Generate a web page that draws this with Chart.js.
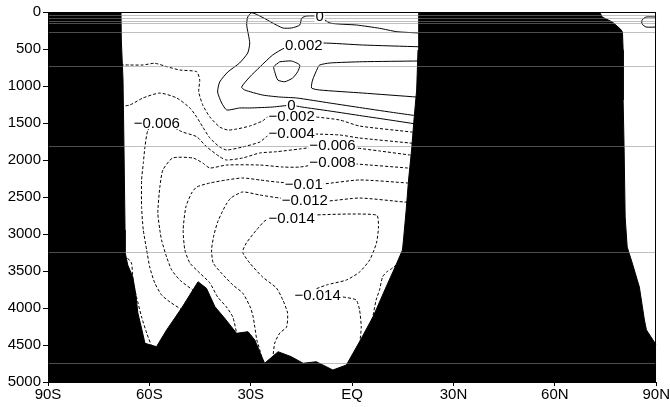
<!DOCTYPE html>
<html>
<head>
<meta charset="utf-8">
<script src="https://cdn.jsdelivr.net/npm/chart.js@4/dist/chart.umd.min.js"></script>
<style>
  html, body { margin: 0; padding: 0; background: #fff; }
  canvas { display: block; }
</style>
</head>
<body>
<canvas id="c" width="670" height="407"></canvas>
<script>
// Axes
const latTicks = [-90, -60, -30, 0, 30, 60, 90];
const latTickLabels = ['90S', '60S', '30S', 'EQ', '30N', '60N', '90N'];
const depthTicks = [0, 500, 1000, 1500, 2000, 2500, 3000, 3500, 4000, 4500, 5000];

// Model level depths (m) marked across the section
const levelDepths = [41, 85, 118, 153, 266, 726, 1811, 3243, 4743];

// Land / sea-floor outline (lat, depth in m), filled down to 5000 m
const landLat = [-90, -68.4, -68.3, -67.8, -67.5, -67.2, -67.2, -66.4, -64.9, -64.0, -63.4, -62.2, -61.3,
  -57.9, -54.9, -50.5, -45.6, -43.1, -40.6, -37.7, -34.2, -30.8, -28.8, -25.9, -21.9, -18.0, -14.5,
  -10.6, -5.7, -1.7, 2.2, 6.2, 10.1, 12.6, 14.0, 14.9, 15.2, 16.0, 16.7, 17.6, 18.3, 19.1, 19.5, 19.7,
  72.9, 73.5, 74.0, 77.0, 79.4, 80.0, 80.2, 80.2, 80.5, 80.8, 81.4, 82.9, 85.0, 86.5, 87.1, 90];
const landDepth = [0, 0, 378, 919, 1865, 2946, 3243, 3419, 3581, 3824, 4068, 4297, 4477,
  4523, 4297, 4004, 3645, 3734, 3982, 4139, 4342, 4320, 4432, 4747, 4591, 4658, 4747,
  4726, 4838, 4770, 4455, 4118, 3712, 3459, 3311, 3216, 3081, 2676, 2270, 1865, 1459, 1054, 514, 0,
  0, 20, 68, 135, 230, 270, 514, 1189, 1865, 2770, 3176, 3392, 3716, 4162, 4297, 4500];

// Streamfunction contours (Sv), each a polyline of [lat, depth] pairs
const levelPlus002 = 0.002;
const linePlus002 = [[19.9, 470], [3.1, 446], [-8.7, 419], [-14.3, 446], [-19.9, 486], [-23.5, 581],
  [-27.3, 743], [-30.3, 878], [-32.7, 1014], [-31.8, 1054], [-26.5, 1122], [-21.4, 1149], [-16.4, 1162],
  [-6.6, 1230], [3.1, 1297], [13.2, 1365], [19.5, 1405]];

const levelZero = 0;
const lineZero = [[20.0, 284], [13.2, 266], [8.1, 220], [1.3, 176], [-6.6, 149], [-9.6, 60], [-13.4, 54],
  [-14.9, 81], [-15.5, 176], [-17.9, 216], [-20.5, 216], [-23.5, 149], [-26.7, 68], [-29.7, 10],
  [-30.9, 68], [-31.2, 176], [-30.3, 419], [-30.9, 554], [-33.3, 689], [-36.8, 811], [-39.2, 946],
  [-39.8, 1081], [-38.6, 1230], [-37.1, 1324], [-33.3, 1297], [-30.3, 1297], [-23.5, 1284],
  [-18.0, 1260], [-14.9, 1284], [-6.6, 1338], [3.1, 1405], [11.1, 1459], [19.0, 1514]];

const levelPlus004 = 0.004;
const linePlus004Tongue = [[19.7, 662], [3.1, 672], [-6.6, 689], [-9.6, 716], [-10.2, 757], [-11.7, 919],
  [-12.0, 1027], [-9.6, 1054], [3.1, 1095], [19.3, 1150]];
const linePlus004Cell = [[-21.4, 672], [-18.0, 662], [-15.5, 716], [-16.1, 807], [-17.6, 892], [-19.9, 942],
  [-22.0, 919], [-22.9, 807], [-23.2, 739], [-21.4, 672]];

const levelMinus002 = -0.002;
const lineMinus002 = [[-70, 716], [-65.8, 716], [-61.9, 716], [-58.4, 693], [-54.8, 739], [-51.0, 784],
  [-46.0, 807], [-45.1, 919], [-45.4, 1077], [-44.2, 1257], [-42.1, 1419], [-39.2, 1554], [-36.8, 1595],
  [-34.1, 1581], [-30.3, 1541], [-26.5, 1473], [-25.0, 1419], [-17.9, 1405], [-10.8, 1419], [-3.7, 1459],
  [2.2, 1541], [17.6, 1622], [19.5, 1640]];

const levelMinus004 = -0.004;
const lineMinus004 = [[-70, 1284], [-65.8, 1257], [-61.9, 1162], [-56.9, 1095], [-51.9, 1162], [-48.0, 1297],
  [-46.0, 1419], [-44.2, 1554], [-42.1, 1703], [-39.2, 1824], [-37.1, 1865], [-32.4, 1824], [-27.3, 1757],
  [-25.0, 1676], [-17.9, 1635], [-10.8, 1649], [-3.7, 1662], [2.2, 1703], [17.0, 1770], [19.0, 1780]];
const lineMinus004Wall = [[-67.5, 3280], [-65.3, 3392], [-64.9, 3622], [-63.8, 3851], [-62.3, 4122],
  [-60.8, 4338], [-59.0, 4560]];

const levelMinus006 = -0.006;
const lineMinus006 = [[-50.2, 4030], [-53.9, 3919], [-56.4, 3824], [-58.4, 3662], [-59.9, 3446], [-60.8, 3216],
  [-61.8, 2946], [-62.3, 2631], [-62.3, 2270], [-61.8, 2045], [-61.3, 1820], [-60.4, 1595], [-57.8, 1500],
  [-54.0, 1530], [-50.4, 1618], [-46.0, 1685], [-43.1, 1820], [-39.2, 1955], [-37.2, 2000], [-32.4, 1973],
  [-27.3, 1905], [-22.4, 1888], [-15.5, 1851], [-5.8, 1797], [1.3, 1838], [8.1, 1878], [17.0, 1932], [18.5, 1940]];

const levelMinus008 = -0.008;
const lineMinus008 = [[-46.8, 3770], [-51.0, 3622], [-53.4, 3486], [-54.9, 3311], [-56.4, 3081], [-56.9, 2946],
  [-57.5, 2716], [-56.9, 2365], [-56.0, 2135], [-53.1, 1973], [-47.1, 1973], [-44.2, 2041], [-42.1, 2108],
  [-37.2, 2068], [-27.3, 2068], [-20.5, 2095], [-15.5, 2095], [-5.8, 2027], [1.3, 2054], [16.4, 2108], [18.0, 2115]];

const levelMinus010 = -0.01;
const lineMinus010 = [[-34.0, 4380], [-35.3, 4122], [-37.2, 3986], [-39.8, 3851], [-42.1, 3662], [-45.1, 3527],
  [-48.0, 3392], [-49.5, 3216], [-50.0, 2946], [-49.2, 2635], [-47.5, 2446], [-46.0, 2365], [-42.1, 2311],
  [-37.2, 2270], [-32.4, 2243], [-27.3, 2270], [-22.4, 2297], [-14.3, 2324], [-8.7, 2324], [2.2, 2270],
  [16.4, 2311], [17.8, 2320]];

const levelMinus012 = -0.012;
const lineMinus012 = [[-25.9, 4790], [-26.8, 4662], [-27.3, 4568], [-28.2, 4432], [-28.8, 4257], [-29.4, 4095],
  [-30.3, 3973], [-32.4, 3797], [-35.3, 3689], [-38.7, 3527], [-41.1, 3392], [-41.6, 3216], [-40.9, 3014],
  [-39.8, 2838], [-38.6, 2716], [-37.4, 2608], [-35.9, 2514], [-32.4, 2432], [-27.3, 2473], [-21.4, 2514],
  [-14.0, 2541], [-7.2, 2554], [2.2, 2514], [15.5, 2568], [17.0, 2570]];
const lineMinus012Slope = [[14.2, 3370], [12.0, 3459], [10.2, 3514], [9.0, 3581], [8.1, 3757], [7.1, 3892],
  [6.1, 4122], [5.2, 4257], [4.3, 4432], [3.7, 4520]];

const levelMinus014 = -0.014;
const lineMinus014 = [[-23.5, 4690], [-22.9, 4473], [-21.4, 4338], [-19.4, 4257], [-19.1, 4068], [-20.5, 3892],
  [-22.4, 3730], [-26.5, 3581], [-30.3, 3392], [-32.4, 3243], [-31.3, 3122], [-28.3, 2946], [-25.4, 2811],
  [-17.9, 2784], [-11.1, 2743], [7.2, 2743], [7.8, 2905], [7.2, 3122], [5.2, 3351], [2.2, 3514], [-1.7, 3622],
  [-7.6, 3689], [-12.6, 3784], [-10.2, 3824], [-2.8, 3851], [1.2, 3892], [2.2, 4027], [2.7, 4257], [2.2, 4500]];

const lineArcticEddy = [[90, 68], [87.0, 68], [85.8, 108], [85.8, 162], [87.0, 203], [90, 203]];

// Contour labels: level and anchor (lat, depth)
const labelLevel = [0.002, 0, 0, -0.002, -0.004, -0.006, -0.006, -0.008, -0.01, -0.012, -0.014, -0.014];
const labelLat = [-14.3, -9.6, -18.0, -17.9, -17.9, -57.8, -5.8, -5.8, -14.3, -14.0, -17.9, -10.2];
const labelDepth = [446, 55, 1260, 1405, 1635, 1500, 1797, 2027, 2324, 2541, 2784, 3824];

const contourSet = [
  [levelPlus002, linePlus002],
  [levelZero, lineZero],
  [levelPlus004, linePlus004Tongue],
  [levelPlus004, linePlus004Cell],
  [levelMinus002, lineMinus002],
  [levelMinus004, lineMinus004],
  [levelMinus004, lineMinus004Wall],
  [levelMinus006, lineMinus006],
  [levelMinus008, lineMinus008],
  [levelMinus010, lineMinus010],
  [levelMinus012, lineMinus012],
  [levelMinus012, lineMinus012Slope],
  [levelMinus014, lineMinus014],
  [levelZero, lineArcticEddy]
];

const FONT = 'Liberation Sans, Arial, Helvetica, sans-serif';

function levelText(v) {
  return v < 0 ? '\u2212' + String(-v) : String(v);
}

const landSet = {
  data: landLat.map((x, i) => ({ x, y: landDepth[i] })),
  showLine: true,
  fill: { value: 5000 },
  backgroundColor: '#000',
  borderColor: '#000',
  borderWidth: 1,
  pointRadius: 0,
  tension: 0
};

const lineSets = contourSet.map(([level, pts]) => ({
  data: pts.map(p => ({ x: p[0], y: p[1] })),
  showLine: true,
  fill: false,
  borderColor: '#000',
  borderWidth: 1,
  borderDash: level < 0 ? [3, 2] : [],
  pointRadius: 0,
  tension: 0.2
}));

// Level lines, contour labels and the plot frame
const overlay = {
  id: 'overlay',
  afterDatasetsDraw(chart) {
    const { ctx, chartArea: a, scales: { x, y } } = chart;
    ctx.save();
    ctx.beginPath();
    ctx.rect(a.left, a.top, a.right - a.left, a.bottom - a.top);
    ctx.clip();

    ctx.strokeStyle = 'rgba(140,140,140,0.55)';
    ctx.lineWidth = 1;
    levelDepths.forEach(d => {
      const py = Math.round(y.getPixelForValue(d)) + 0.5;
      ctx.beginPath();
      ctx.moveTo(a.left, py);
      ctx.lineTo(a.right, py);
      ctx.stroke();
    });

    ctx.font = '15px ' + FONT;
    ctx.textAlign = 'center';
    ctx.textBaseline = 'middle';
    labelLevel.forEach((lv, i) => {
      const t = levelText(lv);
      const px = x.getPixelForValue(labelLat[i]);
      const py = y.getPixelForValue(labelDepth[i]);
      const w = ctx.measureText(t).width;
      ctx.fillStyle = '#fff';
      ctx.fillRect(px - w / 2 - 1, py - 6, w + 2, 12);
      ctx.fillStyle = '#000';
      ctx.fillText(t, px, py + 1);
    });
    ctx.restore();

    ctx.save();
    ctx.strokeStyle = '#000';
    ctx.lineWidth = 1;
    ctx.strokeRect(Math.round(a.left) + 0.5, Math.round(a.top) + 0.5,
      Math.round(a.right - a.left) - 1, Math.round(a.bottom - a.top) - 1);
    ctx.restore();
  }
};

new Chart(document.getElementById('c'), {
  type: 'scatter',
  data: { datasets: [landSet, ...lineSets] },
  options: {
    responsive: false,
    animation: false,
    events: [],
    layout: { padding: { left: 0, right: 13, top: 12, bottom: 0 } },
    plugins: { legend: { display: false }, tooltip: { enabled: false } },
    scales: {
      x: {
        type: 'linear',
        min: -90,
        max: 90,
        afterBuildTicks(s) { s.ticks = latTicks.map(v => ({ value: v })); },
        afterFit(s) { s.height = 25; },
        ticks: {
          callback: v => latTickLabels[latTicks.indexOf(v)],
          color: '#000',
          font: { family: FONT, size: 15 },
          maxRotation: 0,
          autoSkip: false,
          padding: 0
        },
        grid: { drawOnChartArea: false, drawTicks: true, tickLength: 4, color: '#000' },
        border: { display: true, color: '#000', width: 1 }
      },
      y: {
        type: 'linear',
        min: 0,
        max: 5000,
        reverse: true,
        afterBuildTicks(s) { s.ticks = depthTicks.map(v => ({ value: v })); },
        afterFit(s) { s.width = 48; },
        ticks: {
          callback: v => String(v),
          color: '#000',
          font: { family: FONT, size: 15 },
          autoSkip: false,
          padding: 2
        },
        grid: { drawOnChartArea: false, drawTicks: true, tickLength: 5, color: '#000' },
        border: { display: true, color: '#000', width: 1 }
      }
    }
  },
  plugins: [overlay]
});
</script>
</body>
</html>
